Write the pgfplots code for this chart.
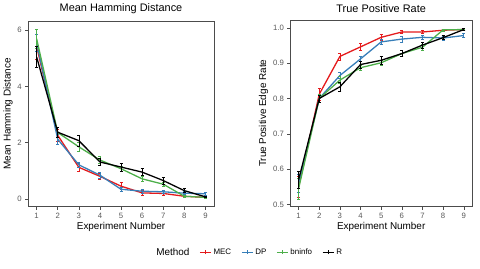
\documentclass[border=0pt]{standalone}
\usepackage{pgfplots}
\pgfplotsset{compat=1.18}
\usepackage{fontspec}
\setmainfont{Liberation Sans}
\definecolor{cMEC}{HTML}{E41A1C}
\definecolor{cDP}{HTML}{377EB8}
\definecolor{cBN}{HTML}{4DAF4A}
\definecolor{cR}{HTML}{000000}
\definecolor{frame}{gray}{0.3}
\definecolor{ticklab}{gray}{0.35}
\pgfplotsset{
  panel/.style={
    scale only axis,
    axis line style={frame, line width=0.6pt},
    tick style={frame, line width=0.5pt},
    tick align=outside, tick pos=left,
    major tick length=3pt,
    xmin=0.6, xmax=9.4,
    xtick={1,...,9},
    ticklabel style={font=\fontsize{7.8}{9}\selectfont, text=ticklab},
    /pgf/number format/assume math mode=true,
    xlabel={Experiment Number},
    label style={font=\fontsize{10}{12}\selectfont},
    title style={font=\fontsize{11}{13}\selectfont, yshift=-2pt},
    xlabel style={yshift=3pt},
    ylabel style={yshift=-2pt},
  },
  ser/.style={color=#1, line width=1.3pt, no markers,
    error bars/.cd, y dir=both, y explicit,
    error bar style={line width=0.6pt, solid},
    error mark options={rotate=90, mark size=1.5pt, line width=0.6pt}},
}
\begin{document}
\begin{tikzpicture}
\path (0pt,0pt) rectangle (480pt,270pt);
\begin{axis}[panel, at={(25pt,62pt)}, anchor=south west,
  width=187pt, height=187pt,
  ymin=-0.28, ymax=6.33, ytick={0,2,4,6},
  ylabel={Mean Hamming Distance},
  title={Mean Hamming Distance},
  legend columns=5,
  legend style={at={(1.19,-0.245)}, anchor=center, draw=none, fill=none,
    font=\fontsize{8}{9}\selectfont,
    /tikz/every even column/.append style={column sep=8pt}},
  legend image code/.code={\draw[line width=1.3pt] (0pt,0pt) -- (11pt,0pt);
    \draw[line width=0.6pt] (5.5pt,-2pt) -- (5.5pt,2pt);},
]
\addlegendimage{empty legend}
\addlegendentry{\fontsize{10}{12}\selectfont Method}
\addplot+[ser=cMEC] table[x index=0, y index=1, y error index=2] {
1 5.42 0.45
2 2.26 0.22
3 1.12 0.15
4 0.80 0.10
5 0.45 0.12
6 0.21 0.08
7 0.19 0.06
8 0.09 0.04
9 0.05 0.03
};
\addlegendentry{MEC}
\addplot+[ser=cDP] table[x index=0, y index=1, y error index=2] {
1 5.55 0.30
2 2.12 0.18
3 1.21 0.10
4 0.84 0.10
5 0.34 0.06
6 0.27 0.06
7 0.25 0.05
8 0.20 0.05
9 0.18 0.05
};
\addlegendentry{DP}
\addplot+[ser=cBN] table[x index=0, y index=1, y error index=2] {
1 5.70 0.35
2 2.36 0.18
3 1.85 0.15
4 1.38 0.12
5 1.07 0.10
6 0.71 0.08
7 0.52 0.07
8 0.09 0.04
9 0.05 0.03
};
\addlegendentry{bninfo}
\addplot+[ser=cR] table[x index=0, y index=1, y error index=2] {
1 5.05 0.38
2 2.37 0.18
3 2.07 0.20
4 1.31 0.12
5 1.13 0.14
6 0.95 0.13
7 0.65 0.12
8 0.29 0.07
9 0.07 0.03
};
\addlegendentry{R}
\end{axis}
\begin{axis}[panel, at={(289pt,62pt)}, anchor=south west,
  width=183pt, height=188pt,
  ymin=0.494, ymax=1.022, ytick={0.5,0.6,...,1.0},
  yticklabel style={/pgf/number format/.cd, fixed, fixed zerofill, precision=1},
  ylabel={True Positive Edge Rate},
  title={True Positive Rate},
]
\addplot+[ser=cMEC] table[x index=0, y index=1, y error index=2] {
1 0.550 0.030
2 0.812 0.018
3 0.919 0.010
4 0.946 0.009
5 0.973 0.008
6 0.988 0.005
7 0.988 0.004
8 0.993 0.003
9 0.995 0.002
};
\addplot+[ser=cDP] table[x index=0, y index=1, y error index=2] {
1 0.560 0.025
2 0.800 0.012
3 0.865 0.008
4 0.912 0.008
5 0.960 0.006
6 0.968 0.008
7 0.973 0.006
8 0.971 0.006
9 0.978 0.006
};
\addplot+[ser=cBN] table[x index=0, y index=1, y error index=2] {
1 0.545 0.030
2 0.800 0.012
3 0.852 0.010
4 0.887 0.008
5 0.901 0.008
6 0.927 0.009
7 0.945 0.008
8 0.994 0.003
9 0.995 0.002
};
\addplot+[ser=cR] table[x index=0, y index=1, y error index=2] {
1 0.570 0.025
2 0.800 0.010
3 0.833 0.012
4 0.896 0.010
5 0.908 0.010
6 0.927 0.008
7 0.951 0.008
8 0.972 0.006
9 0.995 0.003
};
\end{axis}
\end{tikzpicture}
\end{document}
